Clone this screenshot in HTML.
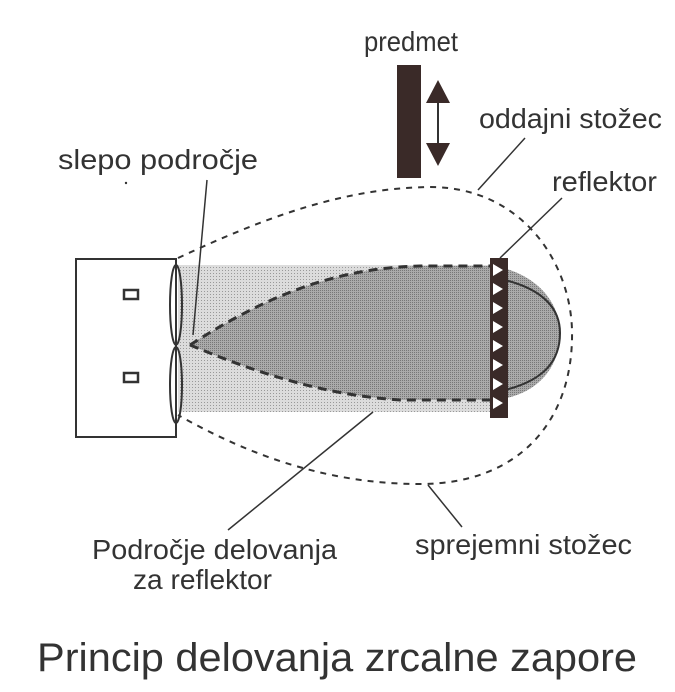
<!DOCTYPE html>
<html><head><meta charset="utf-8"><style>
html,body{margin:0;padding:0;background:#fff;}
svg{display:block;}
text{font-family:"Liberation Sans",sans-serif;fill:#333;}
</style></head><body>
<svg width="675" height="692" viewBox="0 0 675 692" xmlns="http://www.w3.org/2000/svg">
<defs>
<pattern id="p1" width="3" height="3" patternUnits="userSpaceOnUse">
<rect width="3" height="3" fill="#dcdcdc"/><rect width="1" height="1" fill="#999"/>
</pattern>
<pattern id="p2" width="2" height="2" patternUnits="userSpaceOnUse">
<rect width="2" height="2" fill="#aaa"/><rect width="1" height="1" fill="#777"/>
</pattern>
</defs>
<rect x="178" y="265" width="312" height="147" fill="url(#p1)"/>
<path d="M190,345 C260,300 330,268 420,266 L495,266 C540,275 560,305 560,333 C560,365 540,395 495,400 L400,400 C320,395 250,370 190,345 Z" fill="url(#p2)"/>
<path d="M190,345 C260,300 330,268 420,266 L495,266" fill="none" stroke="#333" stroke-width="3" stroke-dasharray="9,6"/>
<path d="M190,345 C250,370 320,395 400,400 L495,400" fill="none" stroke="#333" stroke-width="3" stroke-dasharray="9,6"/>
<path d="M505,280 C545,290 560,310 560,333 C560,360 545,380 505,390" fill="none" stroke="#333" stroke-width="2"/>
<path d="M178,258 C260,220 340,188 430,187 C520,187 570,260 572,330 C574,420 520,484 420,484 C320,484 240,450 178,415" fill="none" stroke="#333" stroke-width="2" stroke-dasharray="6,6"/>
<rect x="76" y="259" width="100" height="178" fill="#fff" stroke="#333" stroke-width="2"/>
<rect x="124" y="290" width="14" height="9" fill="#fff" stroke="#333" stroke-width="2.5"/>
<rect x="124" y="373" width="14" height="9" fill="#fff" stroke="#333" stroke-width="2.5"/>
<ellipse cx="176" cy="305" rx="6" ry="40" fill="none" stroke="#333" stroke-width="2"/>
<ellipse cx="176" cy="385" rx="6" ry="38" fill="none" stroke="#333" stroke-width="2"/>
<rect x="490" y="258" width="18" height="160" fill="#3a2a28"/>
<g fill="#fff">
<polygon points="493,264 493,276 503,270"/><polygon points="493,283 493,295 503,289"/>
<polygon points="493,302 493,314 503,308"/><polygon points="493,321 493,333 503,327"/>
<polygon points="493,340 493,352 503,346"/><polygon points="493,359 493,371 503,365"/>
<polygon points="493,378 493,390 503,384"/><polygon points="493,397 493,409 503,403"/>
</g>
<rect x="397" y="65" width="24" height="113" fill="#3a2a28"/>
<line x1="438" y1="95" x2="438" y2="150" stroke="#333" stroke-width="2"/>
<polygon points="426,103 450,103 438,80" fill="#3a2a28"/>
<polygon points="426,143 450,143 438,166" fill="#3a2a28"/>
<g stroke="#333" stroke-width="1.5">
<line x1="207" y1="180" x2="193" y2="335"/>
<line x1="478" y1="190" x2="525" y2="138"/>
<line x1="500" y1="258" x2="562" y2="198"/>
<line x1="373" y1="412" x2="228" y2="530"/>
<line x1="428" y1="485" x2="462" y2="527"/>
</g>
<circle cx="126" cy="183" r="1.2" fill="#333"/>
<text x="364" y="51" font-size="28" textLength="94" lengthAdjust="spacingAndGlyphs">predmet</text>
<text x="479" y="128" font-size="28" textLength="183" lengthAdjust="spacingAndGlyphs">oddajni stožec</text>
<text x="58" y="169" font-size="28" textLength="200" lengthAdjust="spacingAndGlyphs">slepo področje</text>
<text x="552" y="191" font-size="28" textLength="105" lengthAdjust="spacingAndGlyphs">reflektor</text>
<text x="92" y="559" font-size="28" textLength="245" lengthAdjust="spacingAndGlyphs">Področje delovanja</text>
<text x="133" y="589" font-size="28" textLength="139" lengthAdjust="spacingAndGlyphs">za reflektor</text>
<text x="415" y="554" font-size="28" textLength="217" lengthAdjust="spacingAndGlyphs">sprejemni stožec</text>
<text x="37" y="671" font-size="40" textLength="600" lengthAdjust="spacingAndGlyphs">Princip delovanja zrcalne zapore</text>
</svg>
</body></html>
